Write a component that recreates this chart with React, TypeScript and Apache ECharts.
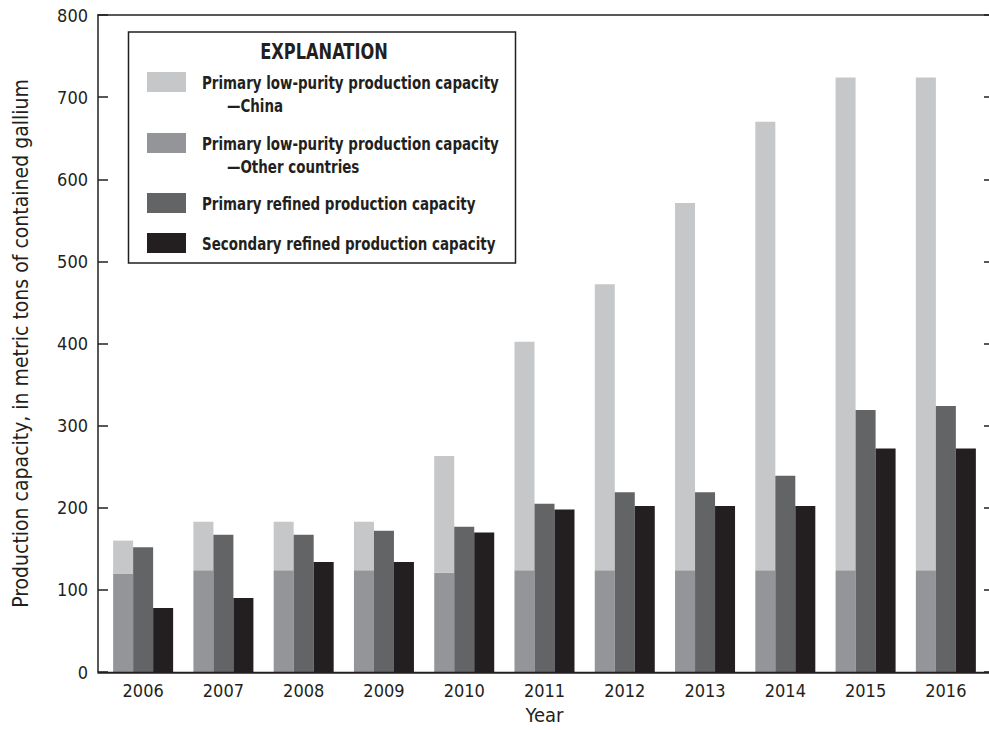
import React, { useEffect, useRef } from 'react';
import * as echarts from 'echarts';

const years = ['2006', '2007', '2008', '2009', '2010', '2011', '2012', '2013', '2014', '2015', '2016'];
const lowPurityOther = [120, 124, 124, 124, 121, 124, 124, 124, 124, 124, 124];
const lowPurityChina = [40, 59, 59, 59, 142, 278, 348, 447, 546, 600, 600];
const refinedPrimary = [152, 167, 167, 172, 177, 205, 219, 219, 239, 319, 324];
const refinedSecondary = [78, 90, 134, 134, 170, 198, 202, 202, 202, 272, 272];

const yTitle = 'Production capacity, in metric tons of contained gallium';
const xTitle = 'Year';
const legendTitle = 'EXPLANATION';
const legendLabels = [
  ['Primary low-purity production capacity', '—China'],
  ['Primary low-purity production capacity', '—Other countries'],
  ['Primary refined production capacity'],
  ['Secondary refined production capacity'],
];

const C_CHINA = '#c6c7c9';
const C_OTHER = '#939598';
const C_REFINED = '#636466';
const C_SECOND = '#231f20';
const INK = '#231f20';
const FONT = "'DejaVu Sans Condensed', 'Liberation Sans', sans-serif";

export default function App() {
  const ref = useRef<HTMLDivElement>(null);
  useEffect(() => {
    const chart = echarts.init(ref.current!, undefined, { renderer: 'svg' });
    const legendColors = [C_CHINA, C_OTHER, C_REFINED, C_SECOND];
    const swatchY = [72, 133, 193, 233];
    const legendEls: any[] = [
      {
        type: 'rect',
        shape: { x: 128.5, y: 32, width: 387, height: 231 },
        style: { fill: '#fff', stroke: INK, lineWidth: 1.5 },
      },
      {
        type: 'text',
        x: 324, y: 52, scaleX: 0.86,
        style: {
          text: legendTitle, x: 0, y: 0, align: 'center', verticalAlign: 'middle',
          fontSize: 21, fontWeight: 'bold', fontFamily: FONT, fill: INK,
        },
      },
    ];
    legendLabels.forEach((lines, i) => {
      legendEls.push({
        type: 'rect',
        shape: { x: 147, y: swatchY[i], width: 39, height: 20 },
        style: { fill: legendColors[i] },
      });
      lines.forEach((t, j) => {
        legendEls.push({
          type: 'text',
          x: j === 0 ? 202 : 227,
          y: swatchY[i] + 11 + j * 23,
          scaleX: 0.83,
          style: {
            text: t, x: 0, y: 0,
            align: 'left', verticalAlign: 'middle',
            fontSize: 18, fontWeight: 'bold', fontFamily: FONT, fill: INK,
          },
        });
      });
    });

    const option: any = {
      animation: false,
      backgroundColor: '#fff',
      grid: { left: 103, right: 3, top: 15, bottom: 57.3, containLabel: false },
      xAxis: {
        type: 'category',
        data: years,
        axisLine: { show: false },
        axisTick: { show: false },
        axisLabel: { fontSize: 18, color: INK, fontFamily: FONT, margin: 9 },
        name: xTitle,
        nameLocation: 'middle',
        nameGap: 33,
        nameTextStyle: { fontSize: 20, color: INK, fontFamily: FONT },
      },
      yAxis: [
        {
          type: 'value', min: 0, max: 800, interval: 100, position: 'left', offset: 5,
          axisLine: { show: true, lineStyle: { color: INK, width: 1.5 } },
          axisTick: { show: true, inside: true, length: 10, lineStyle: { color: INK, width: 1.5 } },
          axisLabel: { fontSize: 18, color: INK, fontFamily: FONT, margin: 10 },
          splitLine: { show: false },
          name: yTitle,
          nameLocation: 'middle',
          nameGap: 67,
          nameTextStyle: { fontSize: 21, color: INK, fontFamily: FONT },
        },
        {
          type: 'value', min: 0, max: 800, interval: 100, position: 'right', offset: 4,
          axisLine: { show: false },
          axisTick: { show: true, inside: true, length: 6, lineStyle: { color: INK, width: 1.5 } },
          axisLabel: { show: false },
          splitLine: { show: false },
        },
      ],
      series: [
        { type: 'bar', stack: 'low', data: lowPurityOther, barWidth: 20, barGap: '0%', itemStyle: { color: C_OTHER } },
        { type: 'bar', stack: 'low', data: lowPurityChina, barWidth: 20, barGap: '0%', itemStyle: { color: C_CHINA } },
        { type: 'bar', data: refinedPrimary, barWidth: 20, barGap: '0%', itemStyle: { color: C_REFINED } },
        { type: 'bar', data: refinedSecondary, barWidth: 20, barGap: '0%', itemStyle: { color: C_SECOND } },
      ],
      graphic: [
        { type: 'line', shape: { x1: 97.5, y1: 672.7, x2: 990, y2: 672.7 }, style: { stroke: INK, lineWidth: 2 }, z: 100 },
        { type: 'line', shape: { x1: 97.5, y1: 15, x2: 990, y2: 15 }, style: { stroke: INK, lineWidth: 1.5 }, z: 100 },
        { type: 'group', children: legendEls, z: 100 },
      ],
    };
    chart.setOption(option);
    return () => chart.dispose();
  }, []);
  return <div ref={ref} style={{ position: 'fixed', left: 0, top: 0, width: 989, height: 730 }} />;
}
